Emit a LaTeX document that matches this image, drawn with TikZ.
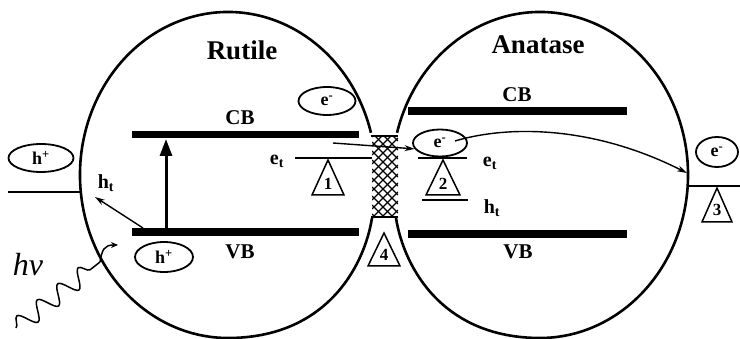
\documentclass[tikz,border=0pt]{standalone}
\usepackage{fontspec}
\setmainfont{Liberation Serif}
\usetikzlibrary{arrows.meta,decorations.pathmorphing,shapes.geometric}
\begin{document}
\begin{tikzpicture}[x=1pt,y=-1pt,
  shell/.style={line width=2.6pt},
  band/.style={line width=7.5pt},
  level/.style={line width=2pt},
  thinarrow/.style={line width=1.4pt,-{Stealth[length=10pt,width=6pt]}},
  bubble/.style={draw,ellipse,line width=1.8pt,inner sep=0pt,font=\bfseries\fontsize{18}{18}\selectfont},
  tri/.style={draw,line width=1.5pt,fill=white,line join=miter},
  num/.style={inner sep=0pt,font=\bfseries\fontsize{17}{17}\selectfont},
  title/.style={inner sep=0pt,font=\bfseries\fontsize{27}{27}\selectfont},
  bandlabel/.style={inner sep=0pt,font=\bfseries\fontsize{21}{21}\selectfont},
  trap/.style={inner sep=0pt,font=\bfseries\fontsize{20}{20}\selectfont},
]
\useasboundingbox (0,0) rectangle (740,339);

% particles (shells)
\coordinate (lneckT) at (370.96,132.81);
\coordinate (lneckB) at (372,218);
\draw[shell] (lneckT) arc[start angle=-15,end angle=-270,x radius=148,y radius=163]
  .. controls (325,338) and (364,268) .. (lneckB);
\coordinate (rneckT) at (397.04,132.81);
\coordinate (rneckB) at (396,218);
\draw[shell] (rneckT) arc[start angle=195,end angle=450,x radius=148,y radius=163]
  .. controls (443,338) and (404,268) .. (rneckB);

% titles
\node[title] (rut) at (242,50) {Rutile};
\node[title] (ana) at (538,45) {Anatase};

% bands
\coordinate (lcbA) at (132,134.5); \coordinate (lcbB) at (359,134.5);
\coordinate (lvbA) at (132,232); \coordinate (lvbB) at (359,232);
\coordinate (rcbA) at (408,111); \coordinate (rcbB) at (627,111);
\coordinate (rvbA) at (408,234); \coordinate (rvbB) at (627,234);
\draw[band] (lcbA) -- (lcbB);
\draw[band] (lvbA) -- (lvbB);
\draw[band] (rcbA) -- (rcbB);
\draw[band] (rvbA) -- (rvbB);
\node[bandlabel] (lcb) at (240,118) {CB};
\node[bandlabel] (lvb) at (240,252) {VB};
\node[bandlabel] (rcb) at (517,95) {CB};
\node[bandlabel] (rvb) at (518,252) {VB};

% interface (crosshatched neck)
\begin{scope}
  \clip (372,136) rectangle (398,217);
  \fill[white] (372,136) rectangle (398,217);
  \foreach \c in {140,149,...,270} {
    \draw[line width=1.1pt] (372,372-\c) -- (398,398-\c);
  }
  \foreach \c in {500,509,...,630} {
    \draw[line width=1.1pt] (372,\c-372) -- (398,\c-398);
  }
\end{scope}
\coordinate (nTL) at (371,136); \coordinate (nTR) at (398,136);
\coordinate (nBL) at (371,217); \coordinate (nBR) at (398,217);
\draw[line width=2.5pt] (nTL) -- (nTR);
\draw[line width=2.5pt] (nBL) -- (nBR);

% trap levels
\coordinate (letA) at (295,158); \coordinate (letB) at (372,158);
\draw[level] (letA) -- (letB);
\node[trap] (let) at (277,161) {e\textsubscript{t}};
\coordinate (retA) at (418,158); \coordinate (retB) at (467,158);
\draw[level] (retA) -- (retB);
\node[trap] (ret) at (490,163) {e\textsubscript{t}};
\coordinate (rhtA) at (422,200); \coordinate (rhtB) at (468,200);
\draw[level] (rhtA) -- (rhtB);
\node[trap] (rht) at (492,208) {h\textsubscript{t}};
\node[trap] (lht) at (106,183) {h\textsubscript{t}};

% surface levels
\coordinate (lsA) at (8,192); \coordinate (lsB) at (81,192);
\draw[line width=2.2pt] (lsA) -- (lsB);
\coordinate (rsA) at (687,186); \coordinate (rsB) at (740,186);
\draw[line width=2.2pt] (rsA) -- (rsB);

% charge carriers
\node[bubble,minimum width=57pt,minimum height=28pt] (e1) at (327,101) {e\textsuperscript{-}};
\node[bubble,minimum width=54pt,minimum height=27pt] (e2) at (440,143) {e\textsuperscript{-}};
\node[bubble,minimum width=42pt,minimum height=30pt] (e3) at (717,152) {e\textsuperscript{-}};
\node[bubble,minimum width=65pt,minimum height=28pt] (h1) at (41,158) {h\textsuperscript{+}};
\node[bubble,minimum width=58pt,minimum height=30pt] (h2) at (164,257) {h\textsuperscript{+}};

% triangles with numbers
\coordinate (t1) at (328,160);
\draw[tri] (t1) -- ++(-16,35) -- ++(32,0) -- cycle;
\node[num] (n1) at (328,184) {1};
\coordinate (t2) at (443,160);
\draw[tri] (t2) -- ++(-17,35) -- ++(34,0) -- cycle;
\node[num] (n2) at (443,184) {2};
\coordinate (t3) at (717,188);
\draw[tri] (t3) -- ++(-15,34) -- ++(30,0) -- cycle;
\node[num] (n3) at (717,210) {3};
\coordinate (t4) at (384,233);
\draw[tri] (t4) -- ++(-16,33) -- ++(32,0) -- cycle;
\node[num] (n4) at (384,255) {4};

% excitation
\coordinate (exA) at (166,230); \coordinate (exB) at (166,139);
\draw[line width=3pt,-{Triangle[length=17pt,width=12pt]}] (exA) -- (exB);

% hole trapping in rutile
\coordinate (htA) at (143,228); \coordinate (htB) at (95,197);
\draw[thinarrow] (htA) -- (htB);

% electron transfer rutile -> anatase
\coordinate (etA) at (333,143);
\draw[thinarrow] (etA) -- (e2.193);

% electron to surface
\coordinate (cst) at (455,141);
\coordinate (cend) at (687,173);
\draw[thinarrow] (cst) .. controls (505,126) and (590,124) .. (cend);

% light
\node[inner sep=0pt,font=\itshape\fontsize{32}{32}\selectfont] (hv) at (28,265) {hv};
\coordinate (wA) at (16,328); \coordinate (wB) at (100,262);
\draw[line width=1.5pt,decorate,decoration={snake,amplitude=9pt,segment length=26pt}] (wA) -- (wB);
\coordinate (wC) at (118,245);
\draw[line width=1.5pt,-{Stealth[length=7pt,width=6pt]}] (wB) .. controls (102,250) and (104,245) .. (wC);
\end{tikzpicture}
\end{document}
